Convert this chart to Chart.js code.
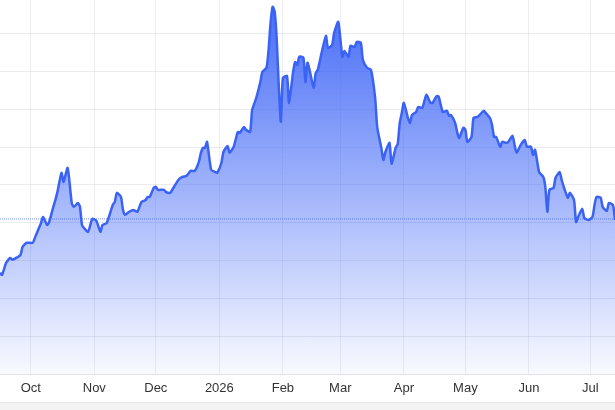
<!DOCTYPE html>
<html>
<head>
<meta charset="utf-8">
<script src="https://cdn.jsdelivr.net/npm/chart.js@4"></script>
<style>
  html, body { margin: 0; padding: 0; background: #f3f3f4; }
  #wrap { width: 615px; height: 402px; background: #ffffff; border-bottom: 1px solid #e6e6e8; }
</style>
</head>
<body>
<div id="wrap"><canvas id="chart" width="615" height="402"></canvas></div>
<script>
//days counted from Sep 16 2025
const days = [0,1,3,5,6,8,10,11,13,16,17,19,20,21,23,24,26,27,28,30,31,33,35,36,38,39,40,41,43,45,47,49,50,52,55,56,57,59,60,61,63,65,67,69,71,72,73,75,76,77,80,81,83,84,87,89,91,93,95,97,98,99,100,101,103,105,106,108,109,111,112,114,116,117,119,120,122,123,125,127,128,130,131,132,133,134,135,136,137,138,140,141,143,144,145,146,148,149,150,151,153,154,155,157,159,160,162,163,165,167,168,170,171,173,174,176,177,179,181,183,184,186,187,188,190,191,193,194,195,196,197,199,200,201,203,204,206,208,210,211,213,214,216,218,219,220,222,223,224,226,227,228,230,231,233,236,237,239,240,241,242,244,245,247,248,250,251,252,254,256,257,259,260,261,263,265,266,267,268,270,271,273,274,275,277,278,280,281,282,284,285,287,289,290,291,293,294,296,297,299,300];
//closing values
const prices = [26.7,26.2,29.4,30.7,30.2,30.7,31.5,33.6,34.7,34.7,36.0,38.6,39.9,41.5,39.4,40.2,44.2,46.0,48.1,53.2,50.8,54.5,45.2,44.2,45.2,44.2,39.4,38.6,37.6,41.0,40.5,37.6,39.4,39.9,44.7,45.5,47.9,46.8,43.4,42.1,42.9,43.4,42.9,45.5,46.0,46.8,46.8,49.2,49.5,48.7,48.7,48.1,47.9,48.7,51.3,52.1,52.4,53.7,53.7,56.1,58.5,59.8,59.8,61.4,54.0,53.4,53.2,55.8,58.7,60.3,58.5,60.1,64.0,63.8,65.3,64.6,64.0,69.8,73.0,77.2,79.9,81.0,85.7,92.9,97.1,95.8,88.4,75.9,66.7,78.3,78.8,71.7,79.9,82.5,81.7,83.9,83.6,77.2,82.3,80.4,75.7,79.6,80.4,85.2,89.4,86.2,87.0,90.2,93.1,83.9,85.4,83.9,86.8,86.5,87.8,87.6,83.1,81.0,80.4,73.0,65.3,59.8,56.6,58.7,61.1,55.6,59.8,60.8,66.4,69.0,71.7,67.7,66.4,68.5,69.3,70.6,70.4,73.8,71.7,71.7,73.5,73.3,69.3,69.6,68.3,68.5,66.4,64.0,62.4,65.1,64.6,61.4,62.7,67.7,68.0,69.6,69.0,67.7,65.9,62.7,62.7,60.1,61.4,61.1,61.4,63.0,60.6,58.5,60.6,61.9,60.1,60.1,57.9,59.3,53.4,52.1,49.5,42.9,48.7,49.2,51.9,53.4,51.3,49.5,46.6,47.9,46.0,40.2,41.5,43.7,41.3,40.7,41.5,44.7,46.8,46.6,44.2,43.1,45.2,44.7,40.7];
//previous close (dotted line)
const prevClose = 41.0;
//month ticks on the x axis
const monthDays = [15,46,76,107,138,166,197,227,258,288];
const monthLabels = ["Oct","Nov","Dec","2026","Feb","Mar","Apr","May","Jun","Jul"];
const yTicks = [0,10,20,30,40,50,60,70,80,90];

const points = days.map((d, i) => ({ x: d, y: prices[i] }));

//gradient under the line
function areaFill(context) {
  const area = context.chart.chartArea;
  if (!area) return "rgba(59,99,246,0.4)";
  const g = context.chart.ctx.createLinearGradient(0, area.top, 0, area.bottom);
  g.addColorStop(0, "rgba(59,99,246,0.95)");
  g.addColorStop(1, "rgba(59,99,246,0.03)");
  return g;
}

new Chart(document.getElementById("chart"), {
  type: "line",
  data: {
    datasets: [
      {
        data: points,
        borderColor: "#3a62f5",
        borderWidth: 2.5,
        backgroundColor: areaFill,
        fill: "start",
        pointRadius: 0,
        tension: 0.2,
      },
      {
        data: [{ x: 0, y: prevClose }, { x: 300, y: prevClose }],
        borderColor: "rgba(70,105,245,0.75)",
        borderWidth: 1,
        borderDash: [1, 1],
        pointRadius: 0,
        fill: false,
      },
    ],
  },
  options: {
    responsive: false,
    animation: false,
    layout: { padding: 0 },
    plugins: {
      legend: { display: false },
      tooltip: { enabled: false },
    },
    scales: {
      x: {
        type: "linear",
        min: 0,
        max: 300,
        z: 1,
        afterBuildTicks: (axis) => { axis.ticks = monthDays.map(v => ({ value: v })); },
        afterFit: (axis) => { axis.height = 28; },
        grid: { color: "rgba(60,70,110,0.09)", drawTicks: false },
        border: { display: true, color: "#e2e2e6" },
        ticks: {
          padding: 7,
          maxRotation: 0,
          autoSkip: false,
          color: "#333333",
          font: { family: "Helvetica, Arial, 'Liberation Sans'", size: 13 },
          callback: (v) => monthLabels[monthDays.indexOf(v)],
        },
      },
      y: {
        min: 0,
        max: 98.9,
        z: 1,
        afterBuildTicks: (axis) => { axis.ticks = yTicks.map(v => ({ value: v })); },
        afterFit: (axis) => { axis.width = 0; },
        grid: { color: "rgba(60,70,110,0.11)", drawTicks: false },
        border: { display: false },
        ticks: { display: false },
      },
    },
  },
});
</script>
</body>
</html>
